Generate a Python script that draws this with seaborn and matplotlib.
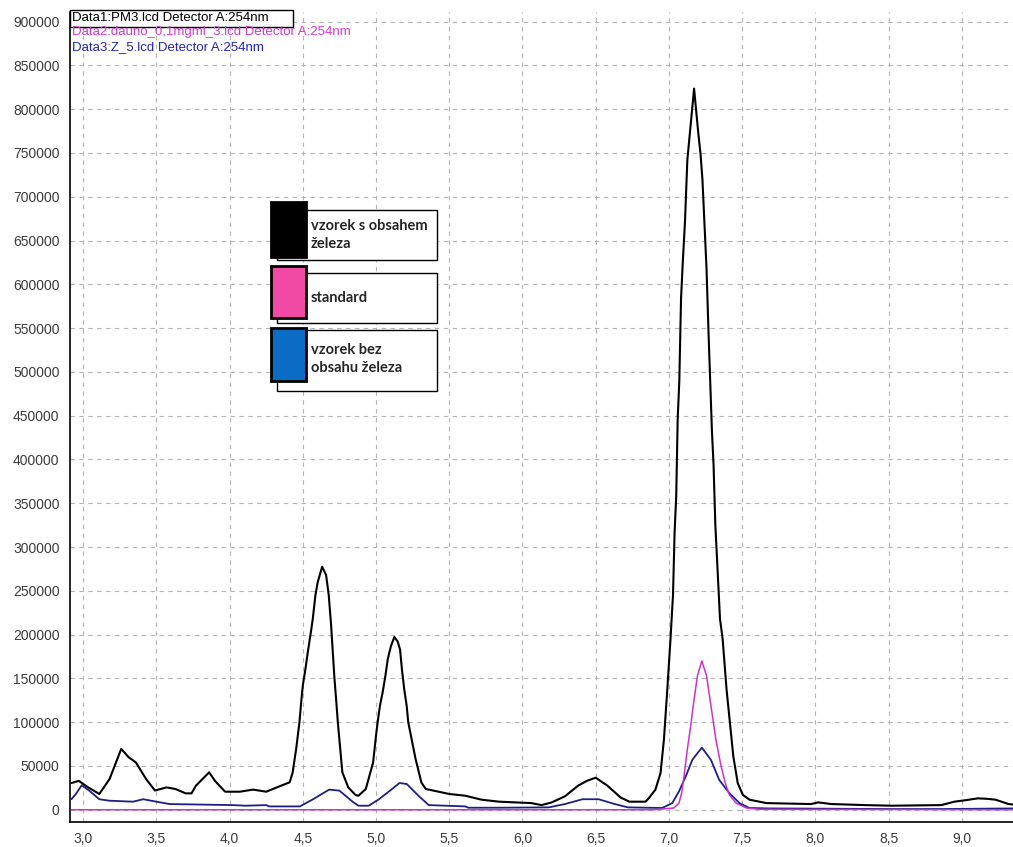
import matplotlib
matplotlib.use("Agg")
import matplotlib.pyplot as plt
import matplotlib.patches as mpatches
from matplotlib.ticker import MultipleLocator, FuncFormatter
import seaborn as sns

# retention time [min] / signal
t_black = [2.92, 2.97, 3.03, 3.11, 3.18, 3.26, 3.31, 3.36, 3.43, 3.49, 3.57, 3.63,
           3.70, 3.74, 3.77, 3.82, 3.86, 3.90, 3.93, 3.97, 4.07, 4.16, 4.25, 4.34,
           4.41, 4.43, 4.455, 4.477, 4.489, 4.50, 4.518, 4.534, 4.557, 4.568, 4.586,
           4.602, 4.632, 4.659, 4.677, 4.693, 4.705, 4.716, 4.727, 4.739, 4.77, 4.81,
           4.86, 4.88, 4.93, 4.98, 5.00, 5.011, 5.027, 5.045, 5.064, 5.080, 5.102,
           5.125, 5.148, 5.164, 5.177, 5.193, 5.209, 5.220, 5.27, 5.31, 5.34, 5.50,
           5.61, 5.72, 5.84, 6.06, 6.13, 6.20, 6.29, 6.38, 6.44, 6.50, 6.58, 6.67,
           6.73, 6.84, 6.862, 6.908, 6.943, 6.966, 6.989, 7.011, 7.028, 7.039, 7.050,
           7.060, 7.071, 7.083, 7.096, 7.110, 7.126, 7.144, 7.172, 7.200, 7.216,
           7.229, 7.248, 7.257, 7.271, 7.282, 7.294, 7.305, 7.317, 7.333, 7.349,
           7.367, 7.394, 7.417, 7.44, 7.47, 7.505, 7.55, 7.665, 7.97, 8.02, 8.11,
           8.34, 8.52, 8.86, 8.95, 9.03, 9.11, 9.17, 9.23, 9.32, 9.35]
y_black = [30500, 33000, 26000, 18000, 35000, 69500, 60000, 54000, 35000, 22000,
           25500, 23700, 18700, 18700, 27500, 36000, 42700, 33000, 27500, 20600,
           20600, 23000, 20600, 26700, 31300, 42000, 70000, 100000, 123000, 142000,
           161000, 180000, 205000, 218000, 245000, 260000, 277500, 268000, 245000,
           211000, 180000, 150000, 127000, 100000, 42700, 25600, 16800, 16000, 23700,
           54000, 85000, 100000, 119000, 134000, 153000, 172000, 187000, 197300,
           192000, 183000, 160000, 137000, 119000, 100000, 58000, 31000, 23700, 18000,
           16000, 11500, 9200, 7600, 5300, 8400, 15300, 27500, 33000, 36600, 27500,
           14000, 9200, 9200, 13000, 23000, 42000, 80000, 137000, 195000, 245000,
           317000, 358000, 446000, 489000, 584000, 629000, 672000, 742000, 773800,
           823500, 774000, 749000, 720000, 652000, 618000, 543000, 489000, 432000,
           394000, 326000, 272000, 218000, 195000, 137000, 99000, 61000, 30500, 17000,
           11500, 7600, 6500, 8400, 6500, 5300, 4600, 5300, 9200, 11000, 13000, 12500,
           11500, 6500, 6000]

t_pink = [2.92, 6.90, 7.034, 7.069, 7.087, 7.103, 7.126, 7.149, 7.172, 7.195, 7.225,
          7.257, 7.287, 7.321, 7.356, 7.385, 7.413, 7.459, 7.528, 7.62, 9.35]
y_pink = [0, 0, 2000, 7600, 19000, 38000, 69000, 96000, 126000, 153000, 170000,
          153000, 119000, 80000, 50000, 30500, 17000, 7600, 2000, 500, 0]

t_blue = [2.92, 2.95, 2.99, 3.04, 3.11, 3.18, 3.34, 3.41, 3.50, 3.59, 4.02, 4.11,
          4.25, 4.27, 4.48, 4.57, 4.68, 4.75, 4.84, 4.88, 4.95, 5.02, 5.11, 5.16,
          5.21, 5.29, 5.36, 5.61, 5.63, 5.84, 6.18, 6.29, 6.41, 6.52, 6.63, 6.72,
          6.954, 7.023, 7.069, 7.115, 7.16, 7.225, 7.287, 7.344, 7.413, 7.482, 7.55,
          7.69, 8.52, 8.86, 9.35]
y_blue = [12000, 18000, 28000, 22000, 12000, 10300, 9200, 12000, 9200, 6500, 5300,
          4600, 5300, 3800, 3800, 12000, 23000, 21800, 9200, 4600, 4600, 12000, 23700,
          30500, 29400, 16000, 5300, 3800, 2300, 2300, 2700, 6500, 12000, 12000, 6500,
          2700, 2000, 7600, 21000, 38000, 57000, 71000, 57000, 34000, 19000, 7600,
          2000, 1500, 800, 800, 1500]

header_lines = ["Data1:PM3.lcd Detector A:254nm",
                "Data2:dauno_0,1mgml_3.lcd Detector A:254nm",
                "Data3:Z_5.lcd Detector A:254nm"]
header_colors = ["#000000", "#d33ad3", "#2424b0"]

legend_labels = ["vzorek s obsahem\nželeza", "standard", "vzorek bez\nobsahu železa"]
legend_colors = ["#000000", "#f04aa4", "#0a6cc4"]

sns.set_style("white")
plt.rcParams["font.family"] = ["Liberation Sans", "DejaVu Sans"]

W, H = 1013, 847
fig = plt.figure(figsize=(W / 100, H / 100), dpi=100)
ax = fig.add_axes([70 / W, 1 - 822 / H, (W - 70) / W, (822 - 12) / H])


def px(x, y):
    return x / W, 1 - y / H


sns.lineplot(x=t_black, y=y_black, color="black", lw=1.5, ax=ax,
             estimator=None, sort=False, zorder=4)
sns.lineplot(x=t_blue, y=y_blue, color="#1e1e86", lw=1.3, ax=ax,
             estimator=None, sort=False, zorder=3)
sns.lineplot(x=t_pink, y=y_pink, color="#cc33cc", lw=1.1, ax=ax,
             estimator=None, sort=False, zorder=3)

ax.set_xlim(2.91, 9.35)
ax.set_ylim(-14000, 911000)
ax.xaxis.set_major_locator(MultipleLocator(0.5))
ax.xaxis.set_minor_locator(MultipleLocator(0.1))
ax.yaxis.set_major_locator(MultipleLocator(50000))
ax.yaxis.set_minor_locator(MultipleLocator(10000))
ax.xaxis.set_major_formatter(FuncFormatter(lambda v, p: f"{v:.1f}".replace(".", ",")))
ax.yaxis.set_major_formatter(FuncFormatter(lambda v, p: f"{int(round(v))}"))
ax.tick_params(axis="both", which="major", direction="out", length=5.5, width=1,
               color="black", labelsize=10, labelcolor="#3a3a3a")
ax.tick_params(axis="both", which="minor", direction="out", length=3, width=1,
               color="black")
ax.tick_params(axis="x", pad=2)
ax.tick_params(axis="y", pad=2)
ax.grid(True, which="major", color="#b4b4b4", linestyle=(0, (4, 4)), lw=0.8)
ax.set_axisbelow(True)
for s in ["top", "right"]:
    ax.spines[s].set_visible(False)
for s in ["left", "bottom"]:
    ax.spines[s].set_color("black")
    ax.spines[s].set_linewidth(1.2)
ax.set_xlabel("")
ax.set_ylabel("")

# header text (chromatogram file names)
fig.patches.append(mpatches.Rectangle(px(70, 27), 223 / W, 17 / H, transform=fig.transFigure,
                                      facecolor="white", edgecolor="black", lw=1, zorder=5))
for i, (txt, c) in enumerate(zip(header_lines, header_colors)):
    fig.text(*px(72, 18 + 14.5 * i), txt, color=c, fontsize=9.5, va="center", ha="left",
             zorder=6)

# legend boxes
boxes = [(210, 260, 202, 257, [226, 244]),
         (273, 323, 266, 318, [298]),
         (330, 391, 328, 381, [349, 369])]
for (wy0, wy1, cy0, cy1, ty), lab, col in zip(boxes, legend_labels, legend_colors):
    fig.patches.append(mpatches.Rectangle(px(277, wy1), 160 / W, (wy1 - wy0) / H,
                                          transform=fig.transFigure, facecolor="white",
                                          edgecolor="black", lw=1, zorder=5))
    fig.patches.append(mpatches.Rectangle(px(271, cy1), 35 / W, (cy1 - cy0) / H,
                                          transform=fig.transFigure, facecolor=col,
                                          edgecolor="black", lw=2, zorder=6))
    ymid = sum(ty) / len(ty)
    fig.text(*px(311, ymid), lab, fontsize=10.5, fontweight="bold", family=["Lato", "DejaVu Sans"],
             va="center", ha="left", linespacing=1.3, zorder=7)

fig.savefig("out.png", dpi=100)
